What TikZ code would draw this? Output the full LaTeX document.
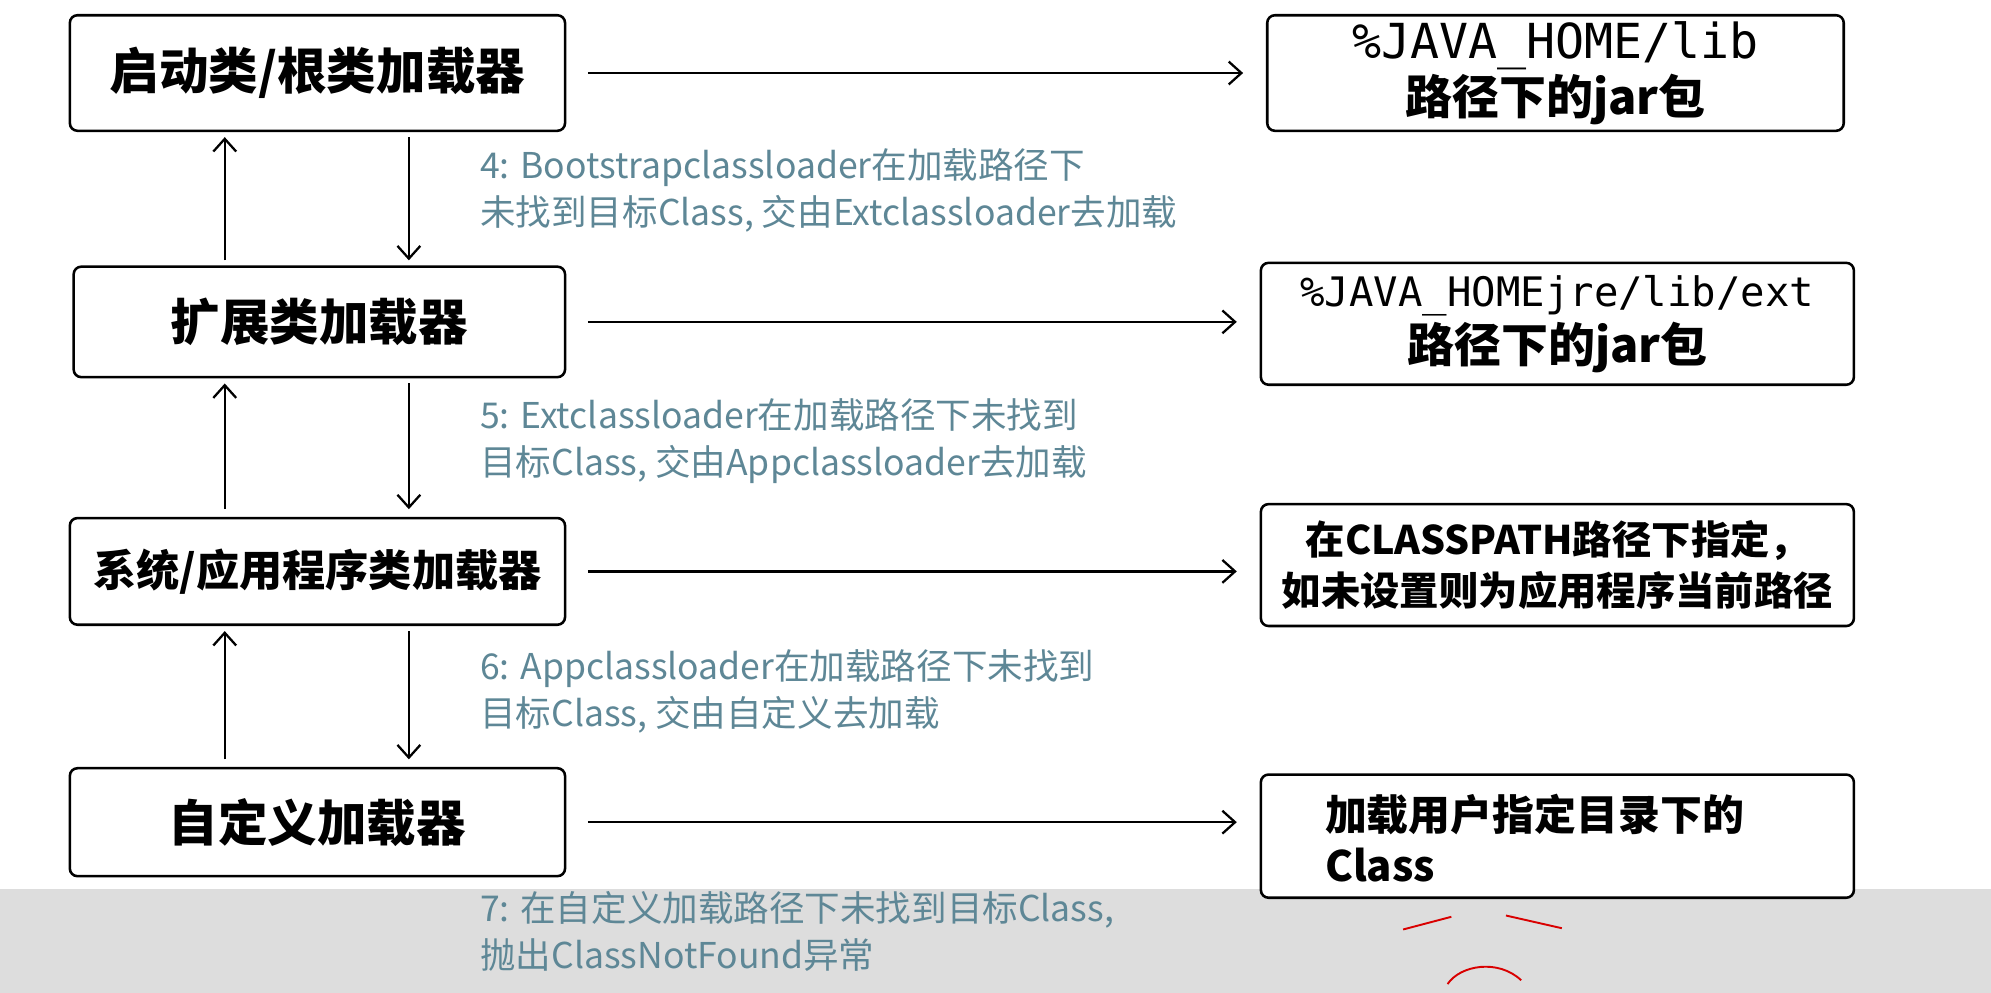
\documentclass[tikz,border=0pt]{standalone}
\usepackage{fontspec}
\setmainfont{Noto Sans CJK SC}
\newfontfamily\monof{DejaVu Sans Mono}
\usetikzlibrary{arrows.meta}
\definecolor{lbl}{HTML}{5E8796}
\definecolor{band}{HTML}{DDDDDD}
\begin{document}
\begin{tikzpicture}[x=1pt,y=-1pt,
  box/.style={draw,line width=2pt,rounded corners=6pt,fill=white,inner sep=0pt},
  arr/.style={-{Straight Barb[length=10pt,width=18pt]},line width=1.8pt},
  lab/.style={text=lbl,font=\fontsize{28}{37}\selectfont,align=left,anchor=north west,inner sep=0pt},
  big/.style={font=\fontsize{39}{44}\selectfont\bfseries},
  rt/.style={font=\fontsize{37}{44}\selectfont\bfseries,align=center}]
\useasboundingbox (0,0) rectangle (1568,782);
\fill[band] (0,700) rectangle (1568,782);
% left boxes
\node[box,big,minimum width=390pt,minimum height=91pt] (b1) at (250,57.5) {启动类/根类加载器};
\node[box,big,minimum width=387pt,minimum height=87pt] (b2) at (251.5,253.5) {扩展类加载器};
\node[box,font=\fontsize{34}{40}\selectfont\bfseries,minimum width=390pt,minimum height=84pt] (b3) at (250,450) {系统/应用程序类加载器};
\node[box,big,minimum width=390pt,minimum height=85pt] (b4) at (250,647.5) {自定义加载器};
% right boxes
\node[box,rt,minimum width=454pt,minimum height=91pt] (r1) at (1225,57.5) {{\monof\mdseries\fontsize{38}{42}\selectfont\%JAVA\_HOME/lib}\\路径下的jar包};
\node[box,rt,minimum width=467pt,minimum height=96pt] (r2) at (1226.5,255) {{\monof\mdseries\fontsize{32}{42}\selectfont\%JAVA\_HOMEjre/lib/ext}\\路径下的jar包};
\node[box,font=\fontsize{31}{40}\selectfont\bfseries,align=center,minimum width=467pt,minimum height=96pt] (r3) at (1226.5,445) {在CLASSPATH路径下指定，\\如未设置则为应用程序当前路径};
\node[box,minimum width=467pt,minimum height=97pt] (r4) at (1226.5,658.5) {};
\node[font=\fontsize{33}{40}\selectfont\bfseries,align=left,anchor=west] (r4t) at (1040,660) {加载用户指定目录下的\\Class};
% horizontal arrows
\foreach \a/\b in {b1/r1,b2/r2,b3/r3,b4/r4}{
  \draw[arr] ([xshift=17pt]\a.east|-\a) -- ([xshift=-18pt]\b.west|-\a);}
% vertical arrows
\draw[arr] (177,205) -- (177,108);
\draw[arr] (177,401) -- (177,302);
\draw[arr] (177,598) -- (177,497);
\draw[arr] (322,108) -- (322,205);
\draw[arr] (322,302) -- (322,401);
\draw[arr] (322,497) -- (322,598);
% labels
\node[lab] (l4) at (378,117) {4: Bootstrapclassloader在加载路径下\\未找到目标Class, 交由Extclassloader去加载};
\node[lab] (l5) at (378,314) {5: Extclassloader在加载路径下未找到\\目标Class, 交由Appclassloader去加载};
\node[lab] (l6) at (378,511) {6: Appclassloader在加载路径下未找到\\目标Class, 交由自定义去加载};
\node[lab] (l7) at (378,702) {7: 在自定义加载路径下未找到目标Class,\\抛出ClassNotFound异常};
% red scribbles
\draw[red!85!black,line width=1.5pt] (1105,732) -- (1143,722);
\draw[red!85!black,line width=1.5pt] (1186,721) -- (1230,731);
\draw[red!85!black,line width=1.5pt] (1140,775) .. controls (1150,760) and (1180,755) .. (1198,772);
\end{tikzpicture}
\end{document}
